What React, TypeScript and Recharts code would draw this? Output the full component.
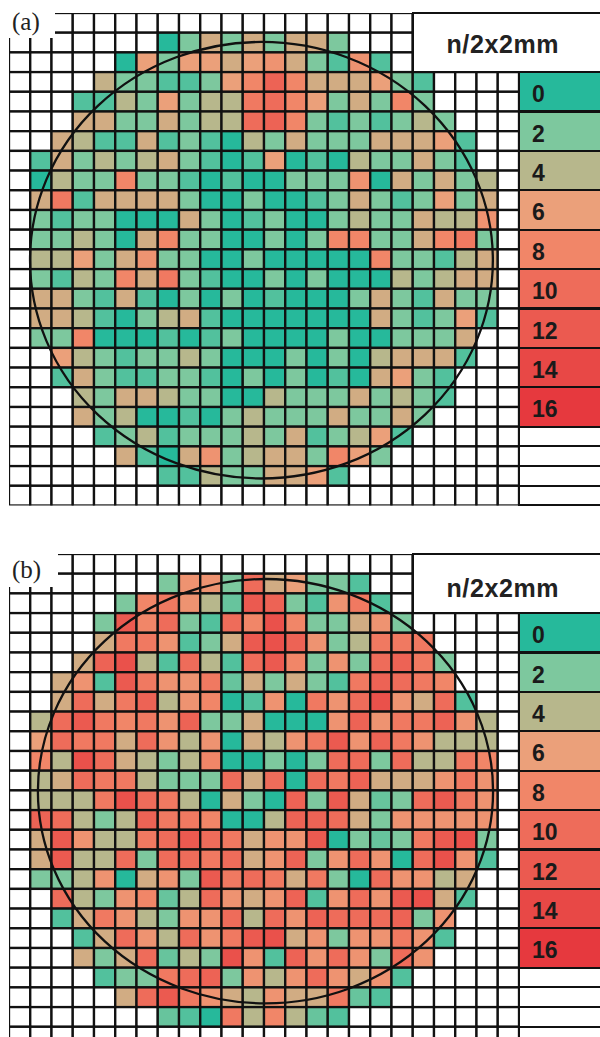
import React from 'react';
import { ScatterChart, Scatter, XAxis, YAxis } from 'recharts';

const _ = null;

// ---------- data ----------
const legendValues = [0, 2, 4, 6, 8, 10, 12, 14, 16];
const legendColors = ['#26B99B', '#7DC89E', '#B7B78C', '#EBA07A', '#F18668', '#EE6C5A', '#EB5A50', '#E84846', '#E6393E'];

const E = [_, _, _, _, _, _, _, _, _, _, _, _, _, _, _, _, _, _, _, _, _, _, _, _];

const waferA: (number | null)[][] = [
  E,
  [_, _, _, _, _, _, _, 0, 2, 5, 2, 5, 2, 5, 5, 2, _, _, _, _, _, _, _, _],
  [_, _, _, _, _, 0, 6, 2, 6, 6, 5, 6, 7, 5, 2, 1, 7, 1, _, _, _, _, _, _],
  [_, _, _, _, 4.5, 2, 2, 1, 1, 2, 6, 8, 11, 8, 5, 5, 5, 6, 2, 1, _, _, _, _],
  [_, _, _, 1, 1, 4, 2, 6, 2, 4, 4, 9, 10, 8, 6, 2, 5, 2, 8, 2, _, _, _, _],
  [_, _, _, 5, 5, 2, 2, 5, 2, 4, 4, 10, 11, 8, 2, 1, 2, 1, 2, 4, 2, _, _, _],
  [_, _, 5, 4, 1, 1, 5, 1, 2, 1, 0, 4, 2, 5, 2, 2, 2, 5, 5, 5, 6, 1, _, _],
  [_, 1, 5, 2, 4, 2, 4, 5, 2, 1, 0, 1, 6, 0, 1, 0, 4, 2, 2, 5, 2, 1, _, _],
  [_, 0, 4, 2, 2, 8, 2, 2, 1, 0, 1, 0, 0, 2, 2, 2, 7, 0, 5, 2, 5, 2, 4, _],
  [_, 5, 9, 1, 5, 5, 5, 5, 2, 0, 0, 2, 0, 0, 1, 2, 5, 2, 1, 2, 6, 2, 5, _],
  [_, 2, 1, 2, 2, 0, 0, 0, 5, 2, 0, 1, 2, 0, 0, 2, 4, 2, 2, 5, 4, 4, 7, _],
  [_, 2, 2, 4, 2, 0, 5, 8, 2, 2, 0, 0, 2, 0, 2, 8, 8, 2, 2, 5, 8, 9, 2, _],
  [_, 4, 4, 6, 2, 5, 7, 2, 2, 0, 0, 2, 0, 0, 0, 0, 0, 8, 2, 2, 1, 4, 5, _],
  [_, 2, 1, 4, 2, 8, 5, 9, 2, 1, 0, 0, 2, 0, 2, 0, 0, 0, 4, 2, 4, 5, 5, _],
  [_, 5, 5, 2, 1, 5, 1, 0, 2, 0, 2, 0, 1, 0, 0, 0, 2, 5, 2, 1, 5, 2, 2, _],
  [_, 5, 5, 4, 1, 0, 2, 4, 5, 1, 0, 0, 0, 0, 0, 0, 0, 5, 2, 1, 2, 6, 1, _],
  [_, 2, 2, 8, 0, 0, 0, 1, 0, 1, 2, 0, 0, 0, 0, 2, 0, 0, 2, 2, 2, 5, _, _],
  [_, _, 6, 4, 2, 1, 2, 2, 4, 2, 0, 0, 0, 2, 0, 2, 0, 4, 5, 5, 5, 1, _, _],
  [_, _, 1, 5, 2, 1, 1, 2, 2, 1, 0, 2, 0, 2, 0, 1, 0, 5, 6, 2, 1, _, _, _],
  [_, _, _, 4, 2, 5, 5, 4, 2, 2, 0, 0, 4, 2, 2, 2, 5, 2, 4, 2, 1, _, _, _],
  [_, _, _, 5, 2, 4, 0, 0, 1, 0, 2, 4, 2, 2, 2, 5, 2, 2, 5, 2, _, _, _, _],
  [_, _, _, _, 1, 2, 4, 1, 2, 2, 2, 4, 2, 5, 1, 2, 4, 6, 1, _, _, _, _, _],
  [_, _, _, _, _, 5, 1, 0, 5, 7, 2, 4, 5, 5, 2, 8, 6, 2, _, _, _, _, _, _],
  [_, _, _, _, _, _, _, 1, 1, 4, 2, 2, 5, 5, 6, 1, _, _, _, _, _, _, _, _],
  E,
];

const waferB: (number | null)[][] = [
  E,
  [_, _, _, _, _, _, _, 2, 7, 7, 2, 10, 5, 6, 2, 2, 1, _, _, _, _, _, _, _],
  [_, _, _, _, _, 2, 8, 9, 7, 4, 1.5, 12, 11, 2, 1, 7, 9, 1, _, _, _, _, _, _],
  [_, _, _, _, 2, 12, 8, 10, 2, 1, 10, 8, 13, 8, 2, 2, 5, 7, 2, _, _, _, _, _],
  [_, _, _, _, 5, 9, 9, 7, 1, 2, 5, 12, 13, 11, 7, 2, 4, 9, 9, 9, _, _, _, _],
  [_, _, _, 5, 11, 13, 4, 1, 10, 4, 1, 10, 12, 8, 2, 7, 2, 10, 11, 9, 2, _, _, _],
  [_, _, 5, 7, 1, 12, 9, 7, 7, 9, 1.5, 5, 2, 5, 2, 1, 9, 11, 10, 9, 8, _, _, _],
  [_, _, 5, 10, 5, 9, 11, 4, 7, 8, 0, 1, 7, 0, 9, 7, 10, 13, 7, 5, 10, 1, _, _],
  [_, 4, 10, 12, 9, 8, 9, 7, 11, 2, 2, 5, 0, 0, 0, 7, 11, 7, 9, 9, 11, 7, 4, _],
  [_, 6, 10, 9, 9, 5, 10, 7, 4, 7, 0, 5, 4, 7, 9, 12, 7, 11, 9, 7, 4, 4, 4, _],
  [_, 8, 4, 13, 10, 5, 4, 2, 4, 8, 0, 0, 2, 0, 2, 10, 10, 2, 10, 4, 4, 9, 8, _],
  [_, 4, 5, 10, 9, 9, 4, 2, 2, 2, 10, 5, 10, 0, 10, 9, 11, 5, 5, 5, 7, 9, 7, _],
  [_, 4, 4, 4, 9, 13, 10, 9, 4, 0, 5, 2, 0, 11, 2, 12, 5, 1.5, 2, 10, 12, 9, 7, _],
  [_, 11, 10, 4, 2, 4, 11, 9, 9, 8, 0, 0, 4, 11, 11, 10, 5, 2, 7, 7, 7, 7, 7, _],
  [_, 5, 12, 7, 4, 4, 9, 10, 12, 10, 9, 5, 7, 7, 12, 0, 2, 1.5, 2, 9, 12, 13, 2, _],
  [_, 5, 12, 4, 4, 10, 2, 10, 10, 9, 10, 5, 7, 11, 2, 7, 10, 7, 0, 10, 13, 7, 1, _],
  [_, 2, 2, 4, 7, 0, 5, 7, 2, 12, 9, 10, 9, 5, 9, 2, 0, 10, 7, 7, 4, 5, _, _],
  [_, _, 10, 4, 2, 7, 8, 1.5, 4, 10, 7, 5, 7, 11, 1, 7, 10, 7, 12, 13, 5, 1, _, _],
  [_, _, 1, 5, 9, 7, 4, 2, 7, 7, 10, 4, 10, 7, 11, 10, 10, 10, 11, 2, 7, _, _, _],
  [_, _, _, 1, 5, 10, 7, 4, 10, 7, 9, 12, 13, 5, 7, 2, 7, 7, 9, 7, 1, _, _, _],
  [_, _, _, 5, 2, 5, 10, 1.5, 4, 2, 13, 7, 1, 11, 7, 10, 7, 2, 10, 7, _, _, _, _],
  [_, _, _, _, 1, 2, 2, 9, 10, 11, 2, 7, 4, 7, 10, 7, 5, 7, 1, _, _, _, _, _],
  [_, _, _, _, _, 5, 10, 12, 9, 7, 5, 4, 7, 5, 5, 9, 1.5, 1, _, _, _, _, _, _],
  [_, _, _, _, _, _, _, 1.5, 1, 0, 9, 4, 8, 4, 1.5, 1, _, _, _, _, _, _, _, _],
  E,
];

// wafer outline (centre and radii in grid cells)
const outlineA = [{ x: 11.88, y: 12.55, rx: 10.89, ry: 11.08 }];
const outlineB = [{ x: 12.07, y: 12.04, rx: 10.71, ry: 10.77 }];

// ---------- layout ----------
const NCOL = 24;
const NROW = 25;
const CHART_W = 600;
const CHART_H = 520;
const M = { top: 13, right: 81, bottom: 14.5, left: 9 };
const PLOT_W = CHART_W - M.left - M.right;
const PLOT_H = CHART_H - M.top - M.bottom;
const CW = PLOT_W / NCOL;
const RH = PLOT_H / NROW;
const LINE = '#111111';

function hexToRgb(h: string) {
  return [parseInt(h.slice(1, 3), 16), parseInt(h.slice(3, 5), 16), parseInt(h.slice(5, 7), 16)];
}
function colorOf(v: number) {
  const step = legendValues[1] - legendValues[0];
  const i = Math.min(Math.floor(v / step), legendValues.length - 2);
  const t = Math.max(0, Math.min(1, (v - legendValues[i]) / step));
  const a = hexToRgb(legendColors[i]);
  const b = hexToRgb(legendColors[i + 1]);
  const c = a.map((av, k) => Math.round(av + (b[k] - av) * t));
  return `rgb(${c[0]},${c[1]},${c[2]})`;
}

const renderCell = (p: any) => {
  if (p.cx == null || p.cy == null) return <g />;
  const v = p.payload?.v;
  return (
    <rect
      x={p.cx - CW / 2}
      y={p.cy - RH / 2}
      width={CW}
      height={RH}
      fill={v == null ? '#ffffff' : colorOf(v)}
      stroke={LINE}
      strokeWidth={2.3}
    />
  );
};

const renderOutline = (p: any) => {
  if (p.cx == null || p.cy == null) return <g />;
  return (
    <ellipse
      cx={p.cx}
      cy={p.cy}
      rx={p.payload.rx * CW}
      ry={p.payload.ry * RH}
      fill="none"
      stroke="#111"
      strokeWidth={2.3}
    />
  );
};

type PanelProps = {
  rows: (number | null)[][];
  outline: { x: number; y: number; rx: number; ry: number }[];
  tag: string;
  top: number;
  tagBox: { top: number; w: number; h: number };
  tagTextTop: number;
  titleTop: number;
};

function Panel({ rows, outline, tag, top, tagBox, tagTextTop, titleTop }: PanelProps) {
  const cells: { x: number; y: number; v: number | null }[] = [];
  rows.forEach((r, ri) => r.forEach((v, ci) => cells.push({ x: ci + 0.5, y: ri + 0.5, v })));

  const gridRight = M.left + NCOL * CW;
  const titleLeft = M.left + 19 * CW;

  return (
    <div style={{ position: 'absolute', left: 0, top, width: CHART_W, height: CHART_H }}>
      <ScatterChart width={CHART_W} height={CHART_H} margin={M}>
        <XAxis type="number" dataKey="x" domain={[0, NCOL]} hide allowDataOverflow />
        <YAxis type="number" dataKey="y" domain={[0, NROW]} reversed hide allowDataOverflow />
        <Scatter data={cells} shape={renderCell} isAnimationActive={false} />
        <Scatter data={outline} shape={renderOutline} isAnimationActive={false} />
      </ScatterChart>

      {/* panel tag */}
      <div
        style={{
          position: 'absolute',
          left: 0,
          top: tagBox.top,
          width: tagBox.w,
          height: tagBox.h,
          background: '#fff',
        }}
      />
      <div
        style={{
          position: 'absolute',
          left: 12,
          top: tagTextTop,
          fontFamily: '"Liberation Serif", "DejaVu Serif", serif',
          fontSize: 25,
          lineHeight: '25px',
          color: '#222',
          whiteSpace: 'nowrap',
        }}
      >
        {tag}
      </div>

      {/* unit title box */}
      <div
        style={{
          position: 'absolute',
          left: titleLeft - 1,
          top: M.top - 1,
          width: 220,
          height: 3 * RH + 2,
          background: '#fff',
          borderTop: `2px solid ${LINE}`,
          borderLeft: `2px solid ${LINE}`,
          borderBottom: `2px solid ${LINE}`,
          boxSizing: 'border-box',
        }}
      />
      <div
        style={{
          position: 'absolute',
          left: 446.5,
          top: titleTop,
          fontFamily: '"Liberation Sans", Arial, sans-serif',
          fontWeight: 700,
          fontSize: 25,
          lineHeight: '25px',
          letterSpacing: 0.6,
          color: '#222',
          whiteSpace: 'nowrap',
        }}
      >
        n/2x2mm
      </div>

      {/* colour legend */}
      {legendValues.map((v, i) => (
        <div
          key={v}
          style={{
            position: 'absolute',
            left: gridRight - 1,
            top: M.top + (3 + 2 * i) * RH - 1,
            width: 120,
            height: 2 * RH + 2,
            background: legendColors[i],
            border: `2px solid ${LINE}`,
            boxSizing: 'border-box',
            fontFamily: '"Liberation Sans", Arial, sans-serif',
            fontWeight: 700,
            fontSize: 23,
            lineHeight: `${2 * RH - 2}px`,
            paddingLeft: 12,
            paddingTop: 3,
            color: '#1a1a1a',
          }}
        >
          {v}
        </div>
      ))}
      {[0, 1, 2, 3].map((j) => (
        <div
          key={'w' + j}
          style={{
            position: 'absolute',
            left: gridRight - 1,
            top: M.top + (21 + j) * RH - 1,
            width: 120,
            height: RH + 2,
            background: '#fff',
            border: `2px solid ${LINE}`,
            boxSizing: 'border-box',
          }}
        />
      ))}
    </div>
  );
}

export default function App() {
  return (
    <div
      style={{
        position: 'absolute',
        left: 0,
        top: 0,
        width: 600,
        height: 1037,
        overflow: 'hidden',
        background: '#fff',
      }}
    >
      <Panel
        rows={waferA}
        outline={outlineA}
        tag="(a)"
        top={0}
        tagBox={{ top: 0, w: 55, h: 38 }}
        tagTextTop={8.5}
        titleTop={31.5}
      />
      <Panel
        rows={waferB}
        outline={outlineB}
        tag="(b)"
        top={541}
        tagBox={{ top: -1, w: 58, h: 47 }}
        tagTextTop={16.4}
        titleTop={34.5}
      />
    </div>
  );
}
